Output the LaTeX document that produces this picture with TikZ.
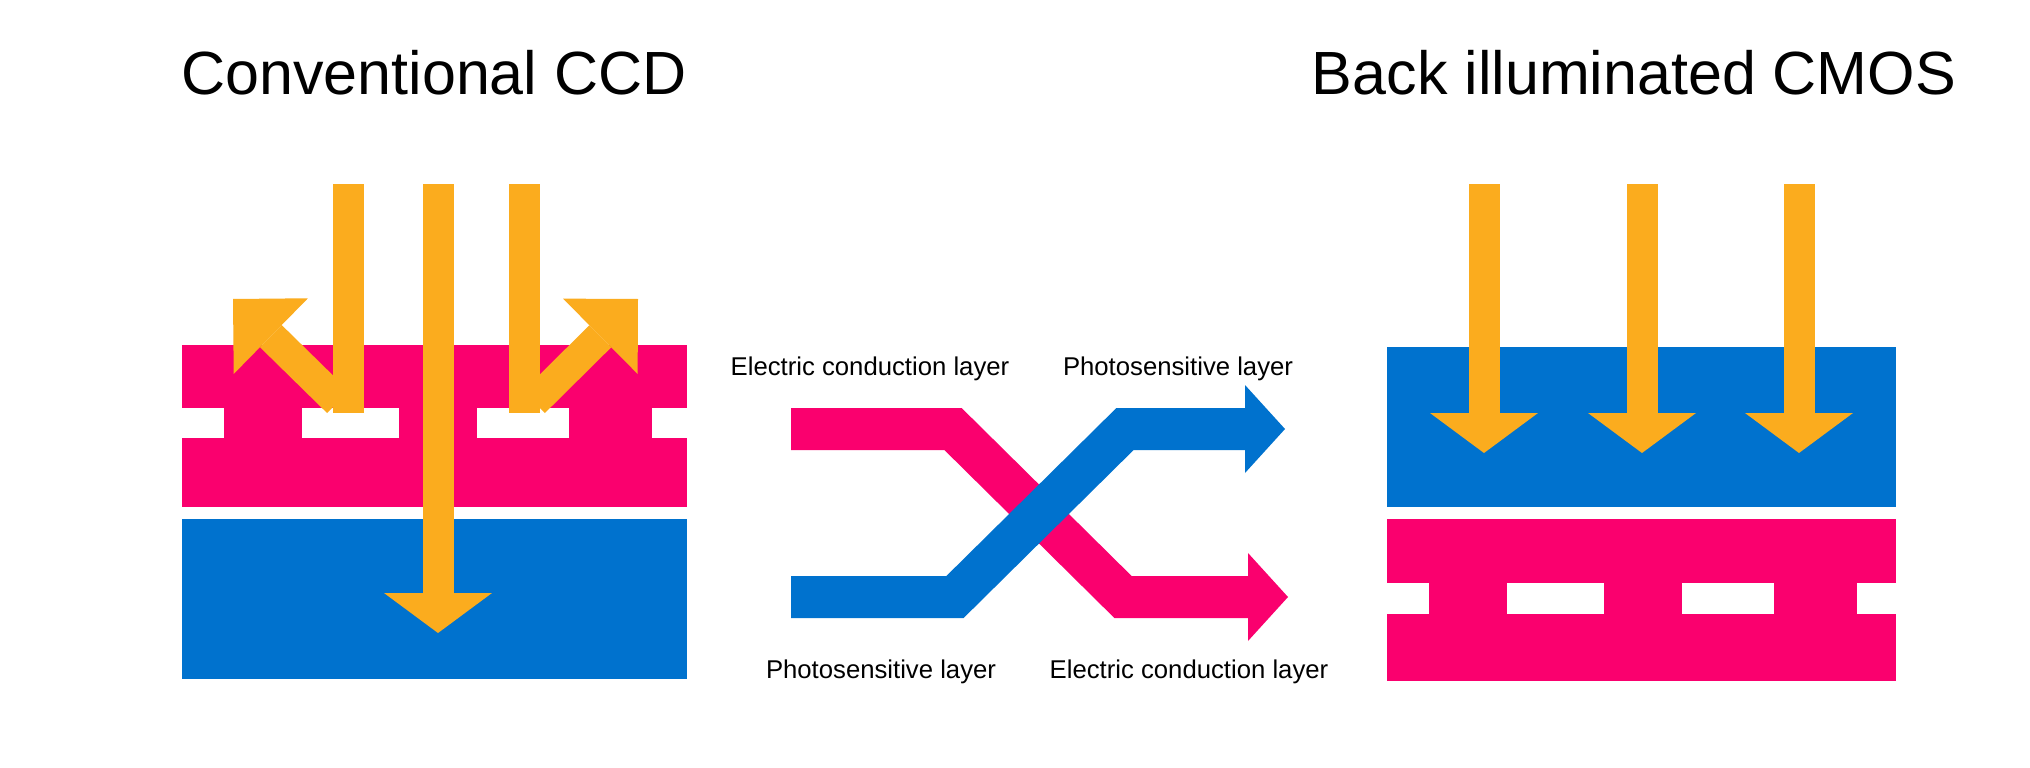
\documentclass[tikz,border=0pt]{standalone}
\usepackage{fontspec}
\setmainfont{Liberation Sans}
\usetikzlibrary{arrows.meta}
\definecolor{layerpink}{RGB}{250,0,110}
\definecolor{layerblue}{RGB}{0,114,206}
\definecolor{lightorange}{RGB}{251,172,30}
\begin{document}
\begin{tikzpicture}[x=1pt, y=-1pt, line join=miter,
	lightray/.style={lightorange, line width=31pt},
	rayhead/.style={-{Triangle[width=108pt,length=40pt,line width=0pt]}},
	rayslant/.style={-{Triangle[width=106pt,length=53pt,line width=0pt]}},
	layerband/.style={line width=42pt, -{Triangle[width=88pt,length=40pt,line width=0pt]}},
	title/.style={anchor=base, inner sep=0pt, font=\fontsize{61}{72}\selectfont},
	lbl/.style={anchor=base, inner sep=0pt, font=\fontsize{25.7}{30}\selectfont}]
	\def\ccdx{182}
	\def\cmosx{1387}
	\def\blockw{511}
	\useasboundingbox (0,0) rectangle (2030,768);
	\fill[white] (0,0) rectangle (2030,768);
	\node[title] (ccdTitle) at (434,95) {Conventional CCD};
	\node[title] (cmosTitle) at (1634,95) {Back illuminated CMOS};
	\fill[layerpink] (\ccdx,345) rectangle (\ccdx+505,507);
	\fill[layerblue] (\ccdx,519) rectangle (\ccdx+505,679);
	\fill[layerblue] (\cmosx,347) rectangle (\cmosx+509,507);
	\fill[layerpink] (\cmosx,519) rectangle (\cmosx+509,681);
	\foreach \a/\b in {-2/42,120/217,295/387,470/512}
	{
		\fill[white] (\ccdx+\a,408) rectangle (\ccdx+\b,438);
		\fill[white] (\cmosx+\a,583) rectangle (\cmosx+\b,614);
	}
	\draw[lightray] (348,184) -- (348,413);
	\draw[lightray, rayslant] (338,402) -- (233,299);
	\draw[lightray] (524,184) -- (524,413);
	\draw[lightray, rayslant] (534,402) -- (638,299);
	\draw[lightray, rayhead] (438,184) -- (438,633);
	\foreach \x in {1484,1642,1799}
	\draw[lightray, rayhead] (\x,184) -- (\x,453);
	\draw[layerband, layerpink] (791,429) -- (953,429) -- (1123,597) -- (1288,597);
	\draw[layerband, layerblue] (791,597) -- (955,597) -- (1125,429) -- (1285,429);
	\node[lbl] (ecTop) at (870,375) {Electric conduction layer};
	\node[lbl] (psTop) at (1178,375) {Photosensitive layer};
	\node[lbl] (psBottom) at (881,678) {Photosensitive layer};
	\node[lbl] (ecBottom) at (1189,678) {Electric conduction layer};
\end{tikzpicture}
\end{document}
